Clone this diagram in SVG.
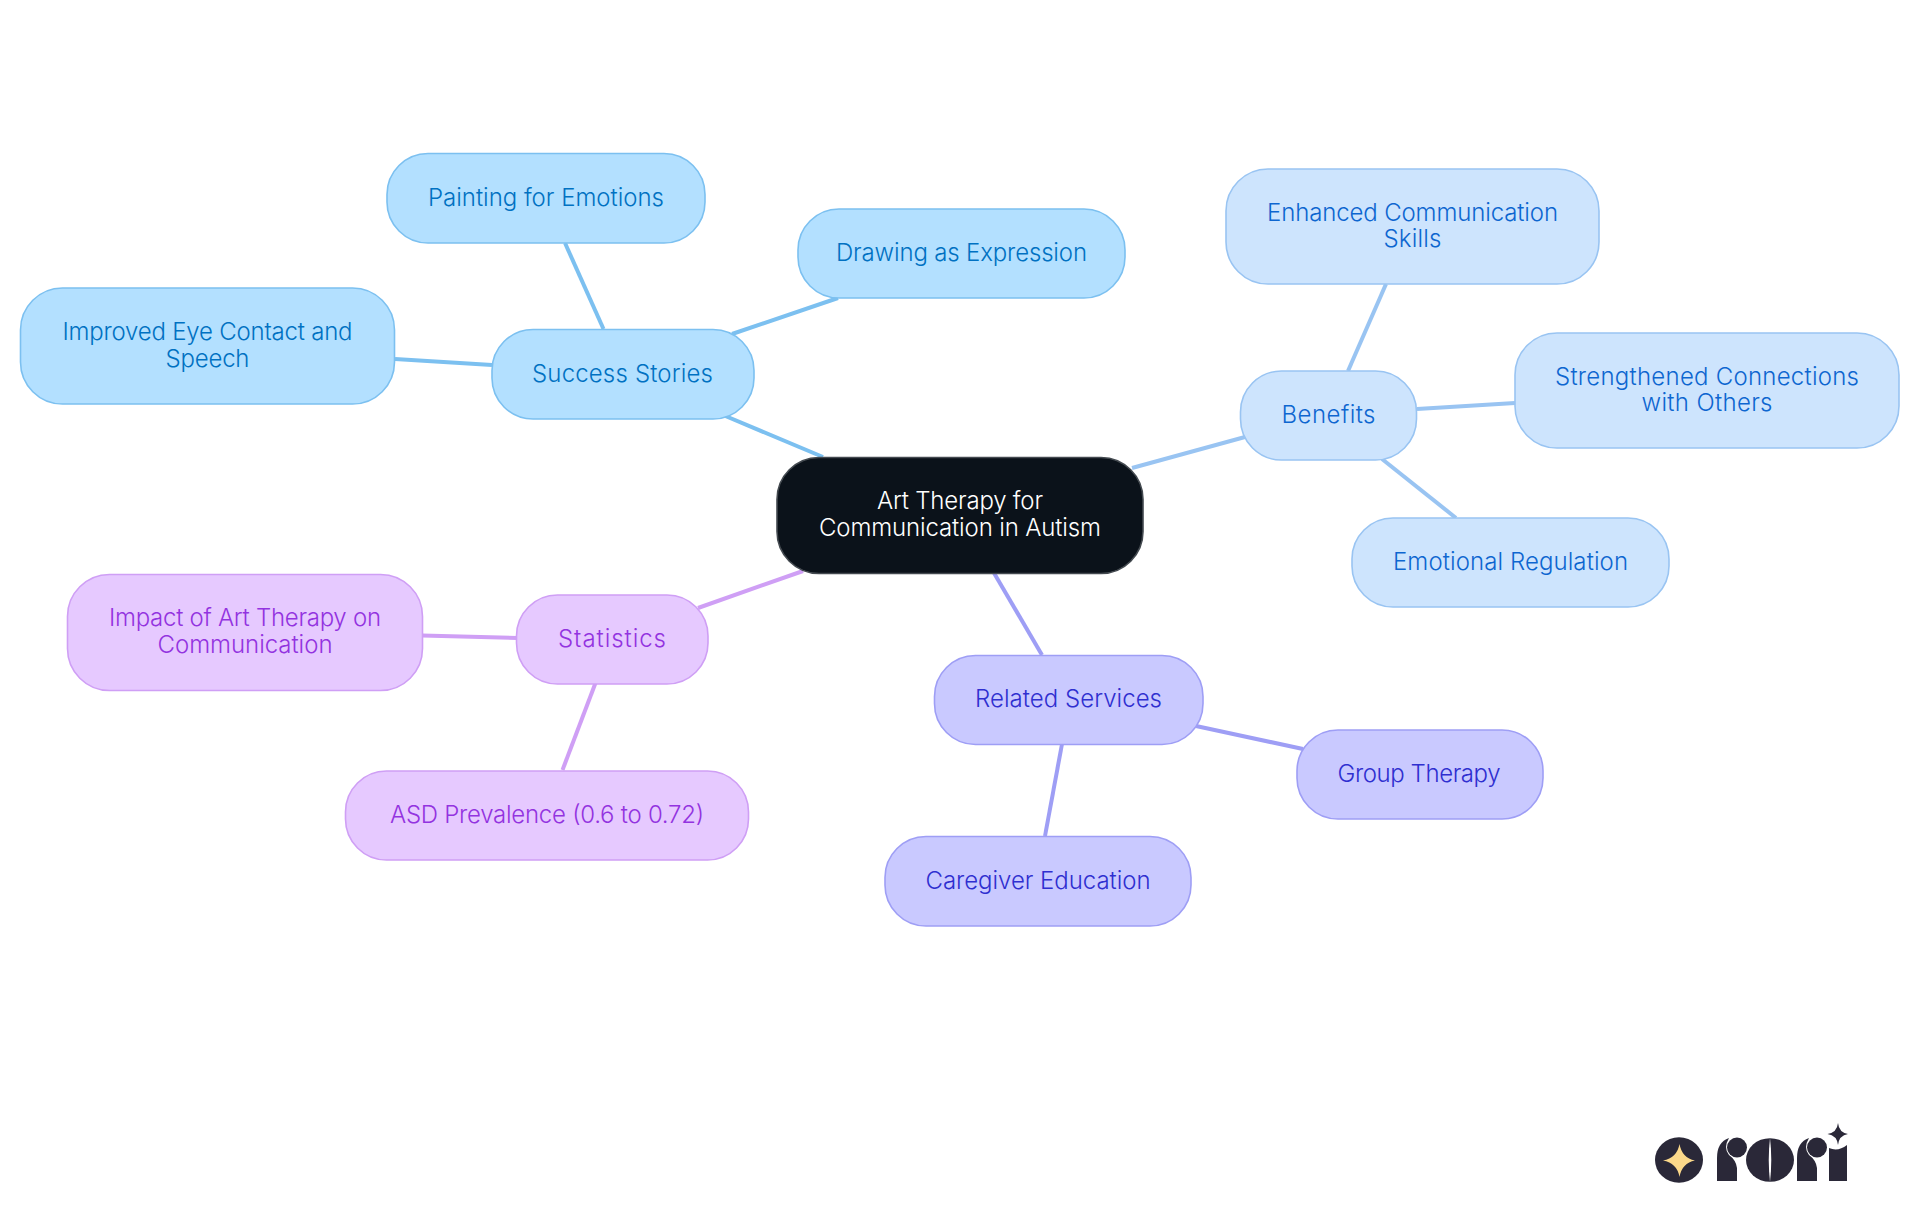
<svg xmlns="http://www.w3.org/2000/svg" width="1920" height="1215" viewBox="0 0 1920 1215">
<style>
text{font-family:"Inter","Noto Sans","Liberation Sans",sans-serif;font-size:24px;font-weight:350;text-anchor:middle}
.box{stroke-width:1.6}
.l{fill:none;stroke-width:4}
.s rect{fill:#b3e0ff;stroke:#7cc0f0}.s text{fill:#0071c2}
.b rect{fill:#cde4fd;stroke:#99c4f2}.b text{fill:#0d66d0}
.r rect{fill:#c9c9ff;stroke:#9e9ef5}.r text{fill:#2f2fd0}
.t rect{fill:#e6c9ff;stroke:#cf9ff5}.t text{fill:#9333e0}
.lk{fill:#2a2838}
</style>
<rect width="1920" height="1215" fill="#fff"/>
<g id="connectors" class="l">
<g stroke="#7cc0f0"><path d="M823 457L723 415"/><path d="M565 243L603.500 329"/><path d="M732 334L838 298"/><path d="M395 359L492 365"/></g>
<g stroke="#99c4f2"><path d="M1132 468L1245 437"/><path d="M1348 371L1386 284"/><path d="M1417 409L1515 403"/><path d="M1382 459L1456 518"/></g>
<g stroke="#9e9ef5"><path d="M994 573L1042 655"/><path d="M1196 726L1303 749"/><path d="M1062 744L1045 836"/></g>
<g stroke="#cf9ff5"><path d="M803 571L698 608"/><path d="M422 635.500L517 638"/><path d="M595.500 683L562.500 770"/></g>
</g>
<g id="root"><rect x="777" y="457.500" width="366" height="116" rx="42" fill="#0b121a" stroke="#444a50" stroke-width="1.600"/><text x="960" y="509" fill="#fff" textLength="166">Art Therapy for</text><text x="960" y="536" fill="#fff" textLength="282">Communication in Autism</text></g>
<g id="success" class="s"><rect class="box" x="492" y="329.500" width="262" height="89.500" rx="41"/><text x="622.500" y="382" textLength="181">Success Stories</text></g>
<g id="painting" class="s"><rect class="box" x="387" y="153.500" width="318" height="89.500" rx="41"/><text x="546" y="206" textLength="236">Painting for Emotions</text></g>
<g id="improved" class="s"><rect class="box" x="20.500" y="288" width="374" height="116" rx="42"/><text x="207.500" y="340" textLength="290">Improved Eye Contact and</text><text x="207.500" y="367" textLength="84">Speech</text></g>
<g id="drawing" class="s"><rect class="box" x="798" y="209" width="327" height="89" rx="41"/><text x="961.500" y="261" textLength="251">Drawing as Expression</text></g>
<g id="benefits" class="b"><rect class="box" x="1240.500" y="371" width="176" height="89" rx="41"/><text x="1328.500" y="423" textLength="94">Benefits</text></g>
<g id="enhanced" class="b"><rect class="box" x="1226" y="169" width="373" height="115" rx="42"/><text x="1412.500" y="221" textLength="291">Enhanced Communication</text><text x="1412.500" y="247" textLength="58">Skills</text></g>
<g id="strengthened" class="b"><rect class="box" x="1515" y="333" width="384" height="115" rx="42"/><text x="1707" y="385" textLength="304">Strengthened Connections</text><text x="1707" y="411" textLength="131">with Others</text></g>
<g id="emotional" class="b"><rect class="box" x="1352" y="518" width="317" height="89" rx="41"/><text x="1510.500" y="570" textLength="235">Emotional Regulation</text></g>
<g id="related" class="r"><rect class="box" x="934.500" y="655.500" width="268.500" height="89" rx="41"/><text x="1068.500" y="707" textLength="187">Related Services</text></g>
<g id="group" class="r"><rect class="box" x="1297" y="730" width="246" height="89" rx="41"/><text x="1419" y="782" textLength="163">Group Therapy</text></g>
<g id="caregiver" class="r"><rect class="box" x="885" y="836.500" width="306" height="89.500" rx="41"/><text x="1038" y="889" textLength="225">Caregiver Education</text></g>
<g id="statistics" class="t"><rect class="box" x="516.500" y="595" width="191.500" height="89" rx="41"/><text x="612" y="647" textLength="108">Statistics</text></g>
<g id="impact" class="t"><rect class="box" x="67.500" y="574.500" width="355" height="116" rx="42"/><text x="245" y="626" textLength="272">Impact of Art Therapy on</text><text x="245" y="653" textLength="175">Communication</text></g>
<g id="asd" class="t"><rect class="box" x="345.500" y="771" width="403" height="89" rx="41"/><text x="547" y="823" textLength="314">ASD Prevalence (0.6 to 0.72)</text></g>
<g id="logo">
<ellipse class="lk" cx="1679" cy="1160" rx="24" ry="22.800"/>
<path fill="#fbd88a" d="M1679.500 1144Q1682 1158 1695 1160.500Q1682 1163 1679.500 1177Q1677 1163 1663 1160.500Q1677 1158 1679.500 1144Z"/>
<path class="lk" d="M1717 1181V1158Q1717 1142 1729 1138Q1723 1148 1729 1155Q1736 1160 1737 1168V1181Z"/><circle class="lk" cx="1737" cy="1147.500" r="10"/>
<ellipse class="lk" cx="1770" cy="1160" rx="24" ry="21.800"/><path fill="#fff" d="M1770 1138Q1767.500 1160 1770 1182Q1772.500 1160 1770 1138Z"/>
<path class="lk" d="M1797 1181V1158Q1797 1142 1809 1138Q1803 1148 1809 1155Q1816 1160 1817 1168V1181Z"/><circle class="lk" cx="1817" cy="1147.500" r="10"/>
<path class="lk" d="M1829 1181V1148Q1838 1152 1847 1145V1181Z"/>
<path class="lk" d="M1838 1123Q1839 1132.500 1848 1134Q1839 1135.500 1838 1145Q1837 1135.500 1827.500 1134Q1837 1132.500 1838 1123Z"/>
</g>
</svg>
